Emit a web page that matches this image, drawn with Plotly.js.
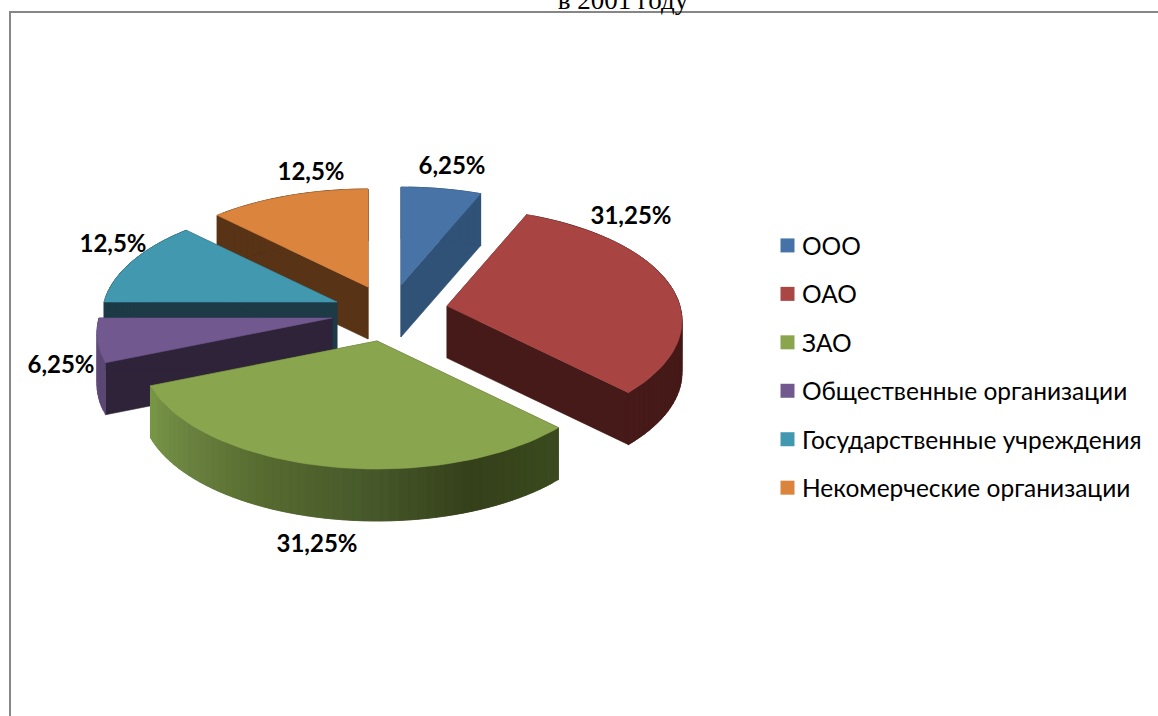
<!DOCTYPE html>
<html>
<head>
<meta charset="utf-8">
<script src="https://cdn.plot.ly/plotly-3.0.1.min.js"></script>
<style>html,body{margin:0;padding:0;background:#fff;overflow:hidden}#chart{width:1158px;height:716px}</style>
</head>
<body>
<div id="chart"></div>
<script>
// Data
const categories = ['ООО', 'ОАО', 'ЗАО', 'Общественные организации', 'Государственные учреждения', 'Некомерческие организации'];
const shares = [6.25, 31.25, 31.25, 6.25, 12.5, 12.5];
const chartTitle = 'в 2001 году';

// Styles
const topColors = ['#4873A6', '#A84543', '#89A54E', '#71588F', '#4198AF', '#DB843D'];
const legendColors = ['#4572A7', '#AA4643', '#89A54E', '#71588F', '#4198AF', '#DB843D'];
const faceColors = ['#2F5276', '#451A18', '#35401A', '#2E2339', '#1C3B47', '#593315'];
// outer wall shading, read from the slice's left end to its right end
const wallStops = [
  ['#2F5276', '#2F5276'],
  ['#451A18', '#451A18'],
  ['#7A9A47', '#6A8240', '#566A2F', '#47592A', '#35401A', '#3A4A1E'],
  ['#6A5286', '#5A4672'],
  ['#1C3B47', '#1C3B47'],
  ['#593315', '#593315']
];

// Layout of the pie drawing (plot units equal page pixels)
const sliceApex = [[401, 285], [447, 306], [377, 341], [332, 318], [337, 302], [368, 287]];
const labelPos = [[452, 168], [631, 218], [317, 546], [61, 367], [113, 246], [311, 174]];
const radiusX = 233, radiusY = 111, perspX = 0.13, perspY = 0.133, depth = 52;
const paintOrder = [0, 5, 1, 4, 3, 2];

const total = shares.reduce((a, b) => a + b, 0);
const starts = [];
shares.reduce((acc, v, i) => { starts[i] = acc; return acc + v; }, 0);

function rimPoint(i, deg, drop) {
  const t = deg * Math.PI / 180, u = Math.sin(t), v = -Math.cos(t);
  return [sliceApex[i][0] + radiusX * u / (1 - perspX * v), sliceApex[i][1] + radiusY * v / (1 - perspY * v) + drop];
}
function hex(c) { return [1, 3, 5].map(k => parseInt(c.substr(k, 2), 16)); }
function ramp(stops, f) {
  const p = Math.min(0.9999, Math.max(0, f)) * (stops.length - 1), k = Math.floor(p), w = p - k;
  const a = hex(stops[k]), b = hex(stops[k + 1]);
  return 'rgb(' + a.map((x, j) => Math.round(x + (b[j] - x) * w)).join(',') + ')';
}
function poly(pts, color) {
  const xs = pts.map(p => p[0]), ys = pts.map(p => p[1]);
  xs.push(xs[0]); ys.push(ys[0]);
  return { type: 'scatter', mode: 'lines', x: xs, y: ys, fill: 'toself', fillcolor: color,
    line: { color: color, width: 0.6 }, showlegend: false, hoverinfo: 'skip' };
}

const traces = [];
paintOrder.forEach(i => {
  const a0 = starts[i] / total * 360, a1 = (starts[i] + shares[i]) / total * 360;
  const apex = sliceApex[i];
  // radial faces
  [a0, a1].forEach(a => {
    const r0 = rimPoint(i, a, 0), r1 = rimPoint(i, a, depth);
    traces.push(poly([apex, r0, r1, [apex[0], apex[1] + depth]], faceColors[i]));
  });
  // outer wall, in small shaded strips painted left to right, each overlapping its neighbour
  const n = Math.max(4, Math.round((a1 - a0) / 2));
  for (let k = n - 1; k >= 0; k--) {
    const b0 = a0 + (a1 - a0) * k / n, b1 = Math.min(a1, a0 + (a1 - a0) * (k + 2) / n);
    const side = [];
    for (let m = 0; m <= 3; m++) side.push(rimPoint(i, b0 + (b1 - b0) * m / 3, 0));
    for (let m = 3; m >= 0; m--) side.push(rimPoint(i, b0 + (b1 - b0) * m / 3, depth));
    traces.push(poly(side, ramp(wallStops[i], 1 - (k + 0.5) / n)));
  }
  // top surface
  const top = [apex];
  for (let k = 0; k <= 60; k++) top.push(rimPoint(i, a0 + (a1 - a0) * k / 60, 0));
  traces.push(poly(top, topColors[i]));
});

// percentage labels
traces.push({ type: 'scatter', mode: 'text', x: labelPos.map(p => p[0]), y: labelPos.map(p => p[1]),
  text: shares.map(v => String(v).replace('.', ',') + '%'), textposition: 'middle center',
  textfont: { family: 'Lato, sans-serif', size: 24, color: '#000', weight: 700 },
  showlegend: false, hoverinfo: 'skip', cliponaxis: false });

// legend entries
categories.forEach((c, i) => traces.push({ type: 'scatter', mode: 'markers', x: [null], y: [null], name: c,
  legendgroup: 'g' + i, marker: { symbol: 'square', size: 14, color: legendColors[i] }, hoverinfo: 'skip' }));

const layout = {
  width: 1158, height: 716, margin: { l: 0, r: 0, t: 0, b: 0, pad: 0 }, autosize: false,
  paper_bgcolor: '#fff', plot_bgcolor: '#fff',
  title: { text: chartTitle, font: { family: 'Liberation Serif, serif', size: 27, color: '#000' },
    x: 623 / 1158, xanchor: 'center', y: 1 - 9 / 716, yanchor: 'bottom', yref: 'container' },
  xaxis: { range: [0, 1158], visible: false, fixedrange: true },
  yaxis: { range: [716, 0], visible: false, fixedrange: true },
  shapes: [{ type: 'rect', xref: 'x', yref: 'y', x0: 10, y0: 12, x1: 1180, y1: 740,
    line: { color: '#868686', width: 2 }, layer: 'below' }],
  showlegend: true,
  legend: { x: 762 / 1158, xanchor: 'left', y: 1 - 223 / 716, yanchor: 'top', bgcolor: 'rgba(0,0,0,0)',
    font: { family: 'Lato, sans-serif', size: 24.5, color: '#000' }, tracegroupgap: 13.6, itemwidth: 30, borderwidth: 0 }
};
Plotly.newPlot('chart', traces, layout, { displayModeBar: false, staticPlot: true }).then(gd => {
  // the reference keeps its legend squares closer to their text than Plotly's default
  gd.querySelectorAll('.legend .legendpoints').forEach(g => g.setAttribute('transform', 'translate(5.5,0)'));
});
</script>
</body>
</html>
